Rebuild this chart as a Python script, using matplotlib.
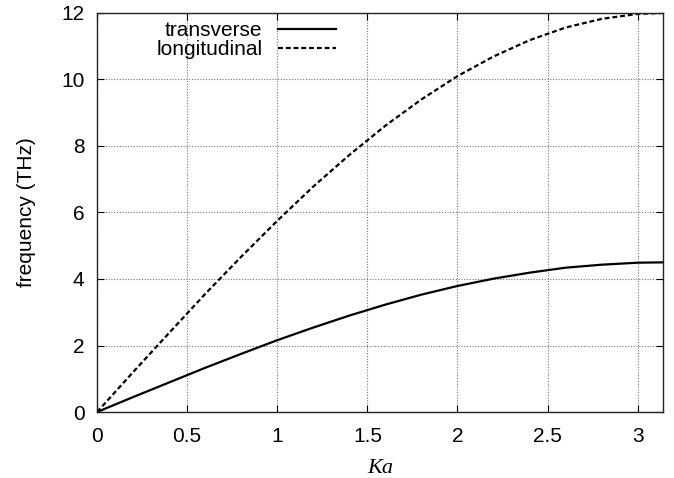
#!/usr/bin/env python3

# Phonon dispersion: frequency vs Ka for transverse and longitudinal branches.

import matplotlib
matplotlib.use('Agg')
import matplotlib.pyplot as plt

# Values.
ka = [0.0, 0.2, 0.4, 0.6, 0.8, 1.0, 1.2, 1.4, 1.6, 1.8, 2.0,
      2.2, 2.4, 2.6, 2.8, 3.0, 3.14159]
transverse = [0.0, 0.45, 0.89, 1.33, 1.75, 2.16, 2.54, 2.90, 3.23, 3.53, 3.79,
              4.01, 4.19, 4.34, 4.43, 4.49, 4.50]
longitudinal = [0.0, 1.20, 2.38, 3.55, 4.67, 5.75, 6.78, 7.73, 8.61, 9.40, 10.10,
                10.69, 11.18, 11.56, 11.82, 11.97, 12.0]

xticks = [0, 0.5, 1, 1.5, 2, 2.5, 3]
xticklabels = ['0', '0.5', '1', '1.5', '2', '2.5', '3']
yticks = [0, 2, 4, 6, 8, 10, 12]


def main():
    plt.rcParams['font.family'] = ['Liberation Sans', 'DejaVu Sans']
    plt.rcParams['font.size'] = 15

    fig = plt.figure(figsize=(6.74, 4.78), dpi=100)
    ax = fig.add_axes([0.144, 0.138, 0.84, 0.835])

    ax.plot(ka, transverse, color='black', lw=1.6, label='transverse')
    ax.plot(ka, longitudinal, color='black', lw=1.6, dashes=(2.2, 1.3),
            label='longitudinal')

    ax.set_xlim(0, 3.14159)
    ax.set_ylim(0, 12)
    ax.set_xticks(xticks)
    ax.set_xticklabels(xticklabels)
    ax.set_yticks(yticks)
    ax.tick_params(direction='in', top=True, right=True, length=5,
                   width=0.8, labelsize=15)
    ax.tick_params(axis='x', pad=11)
    ax.tick_params(axis='y', pad=9)
    ax.grid(True, linestyle=(0, (1, 1.5)), color='#777777', lw=0.8)
    for s in ax.spines.values():
        s.set_linewidth(1.0)
        s.set_color('#222222')

    ax.set_xlabel('Ka', family=['Liberation Serif'], style='italic',
                  fontsize=16, labelpad=9)
    ax.set_ylabel('frequency (THz)', fontsize=15, labelpad=18)

    ax.legend(loc='upper right', bbox_to_anchor=(0.445, 1.01), frameon=False,
              markerfirst=False, handlelength=2.8, handletextpad=0.75,
              labelspacing=0.0, fontsize=15, borderaxespad=0.2)

    plt.savefig('out.png', dpi=100)


if __name__ == '__main__':
    main()
